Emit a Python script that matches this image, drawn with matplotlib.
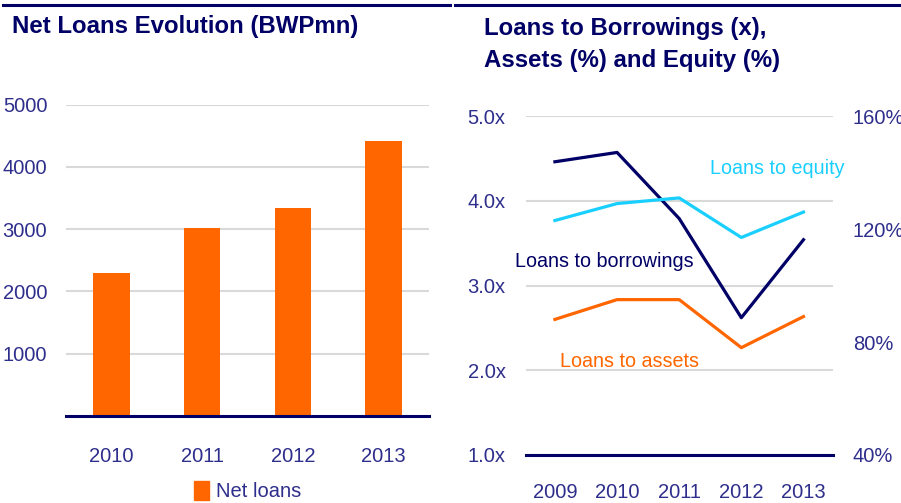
import matplotlib
matplotlib.use("Agg")
import matplotlib.pyplot as plt
from matplotlib.lines import Line2D
from matplotlib.patches import Patch

plt.rcParams['font.family'] = ['Liberation Sans', 'DejaVu Sans']

# ---- data ----
bar_years = ['2010', '2011', '2012', '2013']
net_loans = [2300, 3020, 3340, 4420]
bar_yticks = [1000, 2000, 3000, 4000, 5000]

line_years = ['2009', '2010', '2011', '2012', '2013']
loans_to_borrowings = [4.46, 4.57, 3.79, 2.62, 3.54]   # x (left axis)
loans_to_equity = [123, 129, 131, 117, 126]            # % (right axis)
loans_to_assets = [88, 95, 95, 78, 89]                 # % (right axis)
left_ticks = [1.0, 2.0, 3.0, 4.0, 5.0]
left_ticklabels = ['1.0x', '2.0x', '3.0x', '4.0x', '5.0x']
right_ticks = [40, 80, 120, 160]
right_ticklabels = ['40%', '80%', '120%', '160%']

NAVY = '#000066'
ORANGE = '#FF6600'
CYAN = '#19CFFF'
TICK = '#2E2E8C'
GRID = '#D9D9D9'

W, H = 901, 503
fig = plt.figure(figsize=(W / 100, H / 100), dpi=100)

def fx(px):
    return px / W

def fy(py):
    return 1 - py / H

# top rules
fig.add_artist(Line2D([fx(3), fx(450)], [fy(5), fy(5)], color=NAVY, lw=2.2))
fig.add_artist(Line2D([fx(455), fx(901)], [fy(5), fy(5)], color=NAVY, lw=2.2))

title_kw = dict(color=NAVY, fontweight='bold', fontsize=17.3)
fig.text(fx(12), fy(27), 'Net Loans Evolution (BWPmn)', va='center', ha='left', **title_kw)
fig.text(fx(484), fy(28), 'Loans to Borrowings (x),', va='center', ha='left', **title_kw)
fig.text(fx(484), fy(61), 'Assets (%) and Equity (%)', va='center', ha='left', **title_kw)

# ---- left: bar chart ----
ax1 = fig.add_axes([fx(66), fy(416), fx(429) - fx(66), fy(104.7) - fy(416)])
xb = range(len(bar_years))
ax1.bar(xb, net_loans, width=0.4, color=ORANGE, zorder=2)
ax1.set_xlim(-0.5, 3.5)
ax1.set_ylim(0, 5000)
ax1.set_yticks(bar_yticks)
ax1.set_yticklabels([str(v) for v in bar_yticks])
ax1.set_xticks(list(xb))
ax1.set_xticklabels(bar_years)
ax1.grid(axis='y', color=GRID, lw=1.5, zorder=0)
for s in ax1.spines.values():
    s.set_visible(False)
ax1.axhline(0, color=NAVY, lw=2.2, zorder=3, clip_on=False)
ax1.tick_params(axis='both', length=0, colors=TICK, labelsize=14.5)
ax1.tick_params(axis='y', pad=13.5)
ax1.tick_params(axis='x', pad=22)
leg = fig.legend(handles=[Patch(color=ORANGE, label='Net loans')],
                 loc='center', bbox_to_anchor=(fx(248), fy(491)), frameon=False,
                 fontsize=14.5, handlelength=0.75, handleheight=1.1, handletextpad=0.35)
for t in leg.get_texts():
    t.set_color(TICK)

# ---- right: line chart ----
ax2 = fig.add_axes([fx(525.7), fy(455), fx(833.3) - fx(525.7), fy(116) - fy(455)])
xl = range(len(line_years))
ax2.plot(xl, loans_to_borrowings, color=NAVY, lw=2.3, zorder=4)
ax2.set_xlim(-0.47, 4.48)
ax2.set_ylim(1.0, 5.0)
ax2.set_yticks(left_ticks)
ax2.set_yticklabels(left_ticklabels)
ax2.set_xticks(list(xl))
ax2.set_xticklabels(line_years)
ax2.grid(axis='y', color=GRID, lw=1.5, zorder=0)
for s in ax2.spines.values():
    s.set_visible(False)
ax2.axhline(1.0, color=NAVY, lw=2.2, zorder=3, clip_on=False)
ax2.tick_params(axis='both', length=0, colors=TICK, labelsize=14.5)
ax2.tick_params(axis='y', pad=14.5)
ax2.tick_params(axis='x', pad=20)

ax3 = ax2.twinx()
ax3.plot(xl, loans_to_equity, color=CYAN, lw=2.3, zorder=3)
ax3.plot(xl, loans_to_assets, color=ORANGE, lw=2.3, zorder=3)
ax3.set_ylim(40, 160)
ax3.set_yticks(right_ticks)
ax3.set_yticklabels(right_ticklabels)
for s in ax3.spines.values():
    s.set_visible(False)
ax3.tick_params(axis='y', length=0, colors=TICK, labelsize=14.5, pad=14)

lab_kw = dict(fontsize=14.2, va='center', ha='left')
ax2.text(2.5, 4.375, 'Loans to equity', color=CYAN, **lab_kw)
ax2.text(-0.64, 3.28, 'Loans to borrowings', color=NAVY, **lab_kw)
ax2.text(0.08, 2.1, 'Loans to assets', color=ORANGE, **lab_kw)

fig.savefig('out.png', dpi=100)
